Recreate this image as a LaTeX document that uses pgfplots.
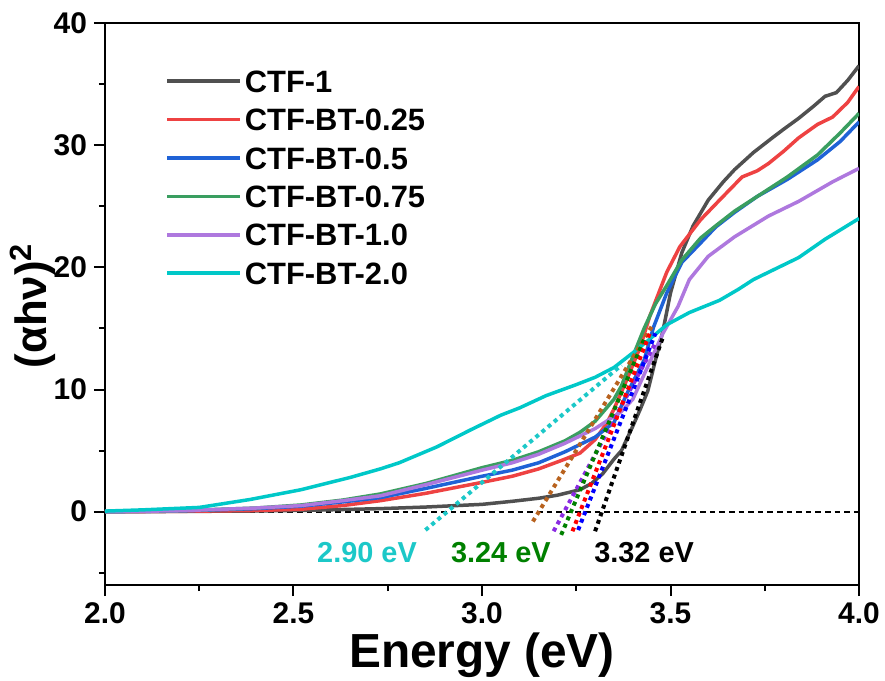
\documentclass[border=0pt]{standalone}
\usepackage{fontspec}
\setmainfont{Liberation Sans}
\usepackage{pgfplots}
\pgfplotsset{compat=1.18}
\usetikzlibrary{calc}

\definecolor{cOne}{HTML}{505050}
\definecolor{cQuart}{HTML}{EE4242}
\definecolor{cHalf}{HTML}{1F62D6}
\definecolor{cThree}{HTML}{3A9E60}
\definecolor{cTen}{HTML}{AE78DE}
\definecolor{cTwo}{HTML}{00C8C8}
\definecolor{dBrown}{HTML}{B8621E}
\definecolor{dPurple}{HTML}{8A2BE2}
\definecolor{dGreen}{HTML}{008000}
\definecolor{dCyan}{HTML}{1CC8C8}

\begin{document}
\begin{tikzpicture}
\begin{axis}[
    name=ax,
    scale only axis,
    width=377bp, height=281bp,
    xmin=2, xmax=4, ymin=-6, ymax=40,
    xtick={2,2.5,3,3.5,4},
    minor xtick={2.25,2.75,3.25,3.75},
    ytick={0,10,20,30,40},
    minor ytick={-5,5,15,25,35},
    xticklabel style={/pgf/number format/.cd, fixed, fixed zerofill, precision=1},
    tick align=outside,
    xtick pos=bottom, ytick pos=left,
    major tick length=5.5bp, minor tick length=3bp,
    every tick/.style={black, line width=1bp},
    axis line style={line width=1bp},
    /pgf/number format/assume math mode=true,
    tick label style={font=\fontsize{15}{15}\selectfont\bfseries},
    xlabel={Energy (eV)},
    xlabel style={font=\fontsize{24}{24}\selectfont\bfseries, at={(axis description cs:0.5,-0.146)}, anchor=base},
    ylabel={(αhν)\textsuperscript{2}},
    ylabel style={font=\fontsize{22}{22}\selectfont\bfseries, at={(axis description cs:-0.0955,0.497)}, anchor=center},
    legend cell align=left,
    legend image code/.code={\draw[#1] (0bp,0bp) -- (36.5bp,0bp);},
    legend style={draw=none, fill=none, at={(axis description cs:0.0796,0.922)}, anchor=north west,
        font=\fontsize{15.5}{15.5}\selectfont\bfseries, row sep=5.2bp, inner sep=0pt,
        nodes={inner sep=1.5bp, text height=11bp, text depth=0bp}},
    every axis plot/.append style={line width=1.75bp},
    tang/.style={line width=2bp, dash pattern=on 2bp off 2bp, forget plot},
]
% y = 0 reference
\addplot[black, line width=0.85bp, dash pattern=on 2.8bp off 2bp, forget plot] coordinates {(2,0) (4,0)};

\addplot[cOne] coordinates {
(2.00,0.0) (2.20,0.02) (2.40,0.06) (2.55,0.12) (2.73,0.25) (2.85,0.38) (3.00,0.6)
(3.08,0.85) (3.15,1.1) (3.20,1.35) (3.26,1.8) (3.29,2.3) (3.32,3.1) (3.35,4.3)
(3.37,5.0) (3.40,7.0) (3.42,8.4) (3.44,9.9) (3.46,12.4) (3.48,14.8) (3.50,17.9)
(3.53,21.2) (3.56,23.4) (3.60,25.5) (3.64,27.0) (3.67,28.0) (3.72,29.4) (3.77,30.6)
(3.80,31.3) (3.84,32.2) (3.88,33.2) (3.91,34.0) (3.94,34.3) (3.97,35.3) (4.00,36.5)};
\addlegendentry{CTF-1}

\addplot[cQuart] coordinates {
(2.00,0.0) (2.20,0.03) (2.40,0.1) (2.52,0.2) (2.63,0.5) (2.73,0.9) (2.85,1.5)
(3.00,2.4) (3.08,2.9) (3.15,3.5) (3.22,4.3) (3.26,4.8) (3.30,5.9) (3.33,7.2)
(3.35,8.4) (3.38,10.5) (3.42,13.5) (3.445,16.0) (3.47,18.0) (3.49,19.6) (3.525,21.7)
(3.58,23.9) (3.63,25.5) (3.69,27.4) (3.73,27.9) (3.76,28.5) (3.80,29.5) (3.84,30.6)
(3.89,31.7) (3.93,32.3) (3.97,33.5) (4.00,34.8)};
\addlegendentry{CTF-BT-0.25}

\addplot[cHalf] coordinates {
(2.00,0.0) (2.20,0.06) (2.40,0.25) (2.52,0.45) (2.63,0.8) (2.73,1.15) (2.85,1.9)
(3.00,2.9) (3.08,3.4) (3.15,4.0) (3.22,4.9) (3.26,5.5) (3.30,6.1) (3.35,7.3)
(3.385,9.7) (3.43,12.4) (3.455,15.1) (3.49,17.9) (3.53,20.4) (3.58,22.0) (3.62,23.3)
(3.67,24.5) (3.73,25.8) (3.81,27.2) (3.89,28.8) (3.95,30.3) (4.00,31.9)};
\addlegendentry{CTF-BT-0.5}

\addplot[cThree] coordinates {
(2.00,0.0) (2.20,0.08) (2.40,0.3) (2.52,0.55) (2.63,0.95) (2.73,1.45) (2.85,2.3)
(3.00,3.6) (3.08,4.2) (3.15,4.9) (3.22,5.8) (3.26,6.5) (3.30,7.4) (3.35,9.2)
(3.37,10.3) (3.40,12.7) (3.43,15.0) (3.46,17.0) (3.49,18.5) (3.53,20.6) (3.58,22.4)
(3.62,23.4) (3.67,24.6) (3.73,25.8) (3.81,27.4) (3.89,29.2) (3.95,31.0) (4.00,32.6)};
\addlegendentry{CTF-BT-0.75}

\addplot[cTen] coordinates {
(2.00,0.0) (2.20,0.08) (2.40,0.3) (2.52,0.5) (2.63,0.9) (2.73,1.3) (2.85,2.2)
(3.00,3.4) (3.08,4.0) (3.15,4.7) (3.22,5.6) (3.26,6.2) (3.30,6.8) (3.35,7.8)
(3.37,8.2) (3.40,9.2) (3.44,11.9) (3.48,14.6) (3.52,16.8) (3.55,19.0) (3.60,20.9)
(3.67,22.5) (3.76,24.2) (3.80,24.8) (3.84,25.4) (3.93,27.0) (4.00,28.1)};
\addlegendentry{CTF-BT-1.0}

\addplot[cTwo] coordinates {
(2.00,0.05) (2.10,0.15) (2.25,0.35) (2.385,1.0) (2.52,1.8) (2.65,2.8) (2.73,3.5)
(2.78,4.0) (2.88,5.3) (2.97,6.7) (3.05,7.9) (3.10,8.5) (3.17,9.5) (3.25,10.4)
(3.30,11.0) (3.35,11.8) (3.40,13.0) (3.44,14.0) (3.49,15.3) (3.55,16.3) (3.63,17.3)
(3.68,18.2) (3.72,19.0) (3.78,19.9) (3.84,20.8) (3.91,22.3) (4.00,24.0)};
\addlegendentry{CTF-BT-2.0}

% linear extrapolations of the absorption edges
\addplot[tang, dCyan] coordinates {(2.85,-1.5) (3.37,12.0)};
\addplot[tang, dBrown] coordinates {(3.135,-0.8) (3.455,15.4)};
\addplot[tang, dPurple] coordinates {(3.19,-1.6) (3.46,13.8)};
\addplot[tang, dGreen] coordinates {(3.21,-1.9) (3.43,14.1)};
\addplot[tang, red] coordinates {(3.24,-1.6) (3.445,14.6)};
\addplot[tang, blue] coordinates {(3.255,-1.5) (3.46,14.6)};
\addplot[tang, black] coordinates {(3.30,-1.6) (3.48,14.3)};

\node[font=\fontsize{14.5}{14.5}\selectfont\bfseries, text=dCyan] at (axis cs:2.695,-3.35) {2.90 eV};
\node[font=\fontsize{14.5}{14.5}\selectfont\bfseries, text=dGreen] at (axis cs:3.05,-3.35) {3.24 eV};
\node[font=\fontsize{14.5}{14.5}\selectfont\bfseries, text=black] at (axis cs:3.43,-3.35) {3.32 eV};
\end{axis}
\pgfresetboundingbox
\path ($(ax.south west)+(-52.5bp,-48bp)$) rectangle ($(ax.north east)+(13bp,11.5bp)$);
\end{tikzpicture}
\end{document}
